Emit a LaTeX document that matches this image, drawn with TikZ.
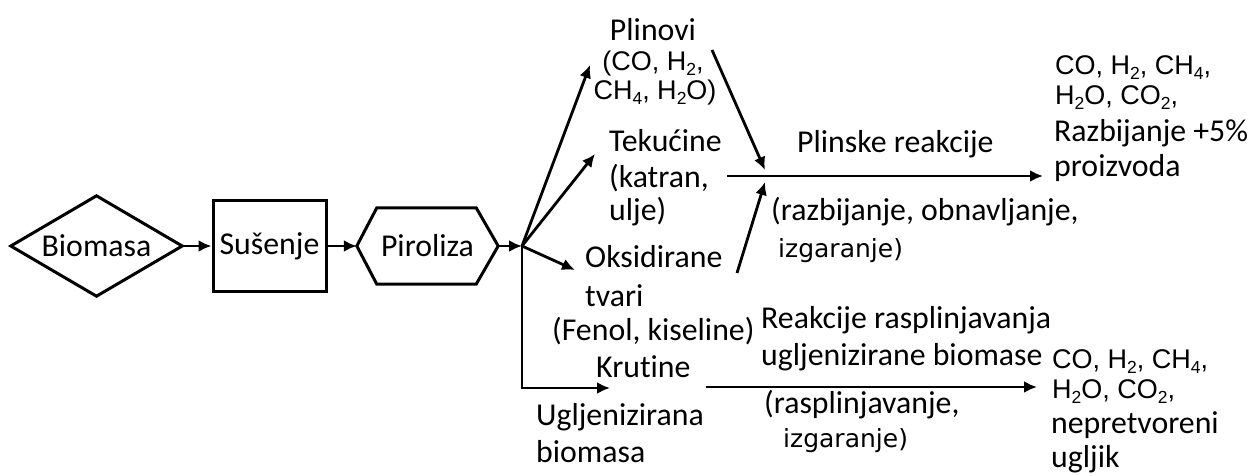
\documentclass[tikz,border=0pt]{standalone}
\usepackage{fontspec}
\setmainfont{Carlito}[Ligatures=NoCommon]
\newfontfamily\chemf{Liberation Sans}
\newfontfamily\dejf{DejaVu Sans}
\usetikzlibrary{arrows.meta,calc}
\newcommand\csub[1]{\raisebox{-5pt}{\fontsize{17.5}{17.5}\selectfont #1}}
\begin{document}
\begin{tikzpicture}[x=1pt,y=-1pt,
  font=\fontsize{31.8}{37}\selectfont,
  txt/.style={inner sep=0pt, anchor=base west},
  ctxt/.style={inner sep=0pt, anchor=base},
  chem/.style={inner sep=0pt, anchor=base west, font=\chemf\fontsize{27}{32}\selectfont},
  cchem/.style={inner sep=0pt, anchor=base, font=\chemf\fontsize{27}{32}\selectfont},
  lite/.style={inner sep=0pt, anchor=base west, font=\dejf\fontsize{25}{29}\selectfont},
  shp/.style={line width=3pt, line join=miter},
  arr/.style={line width=2.8pt, -{Latex[length=13pt,width=12pt]}},
  ln/.style={line width=2.8pt}]
\useasboundingbox (0,0) rectangle (1251,476);

% main chain
\node[minimum width=171pt, minimum height=100pt, inner sep=0pt] (bio) at (96.5,246) {Biomasa};
\draw[shp] (bio.west) -- (bio.north) -- (bio.east) -- (bio.south) -- cycle;
\node[draw, shp, minimum width=113pt, minimum height=90pt, inner sep=0pt] (sus) at (269.5,246) {Sušenje};
\node[minimum width=141pt, minimum height=76pt, inner sep=0pt] (pir) at (427.5,246) {Piroliza};
\draw[shp] (pir.west) -- ($(pir.north west)+(20,0)$) -- ($(pir.north east)+(-22,0)$) -- (pir.east)
  -- ($(pir.south east)+(-22,0)$) -- ($(pir.south west)+(20,0)$) -- cycle;

\coordinate (j) at (522,246);
\draw[arr] (bio.east) -- (sus.west);
\draw[arr] (sus.east) -- (pir.west);
\draw[arr] (pir.east) -- (j);

% pyrolysis products
\node[ctxt] (pl1) at (653,41) {Plinovi};
\node[cchem] (pl2) at (653,71) {(CO, H\csub{2},};
\node[cchem] (pl3) at (655,100) {CH\csub{4}, H\csub{2}O)};
\node[txt] (te1) at (609,152) {Tekućine};
\node[txt] (te2) at (609,188) {(katran,};
\node[txt] (te3) at (609,220) {ulje)};
\node[txt] (ok1) at (585,267) {Oksidirane};
\node[txt] (ok2) at (585,306) {tvari};
\node[txt] (ok3) at (552,340) {(Fenol, kiseline)};
\node[txt] (kr) at (596,377) {Krutine};
\node[txt] (ug1) at (536,425) {Ugljenizirana};
\node[txt] (ug2) at (536,462) {biomasa};

\coordinate (tPl) at (590,65);
\coordinate (tTe) at (595,154);
\coordinate (tOk) at (575,270);
\coordinate (tKr) at (610,388);
\draw[arr] (j) -- (tPl);
\draw[arr] (j) -- (tTe);
\draw[arr] (j) -- (tOk);
\draw[arr] (j) |- (tKr);

% gas reactions
\coordinate (gA) at (712,50);
\coordinate (gB) at (765,170);
\coordinate (oA) at (737,273);
\coordinate (oB) at (765,182);
\coordinate (hA) at (727,176);
\coordinate (hB) at (1043,176);
\draw[arr] (gA) -- (gB);
\draw[arr] (oA) -- (oB);
\draw[arr] (hA) -- (hB);
\node[txt] (pr) at (797,153) {Plinske reakcije};
\node[txt] (rz) at (771,220) {(razbijanje, obnavljanje,};
\node[lite] (iz1) at (778,257) {izgaranje)};

% char reactions
\coordinate (kA) at (706,387);
\coordinate (kB) at (1037,387);
\draw[arr] (kA) -- (kB);
\node[txt] (re1) at (761,328) {Reakcije rasplinjavanja};
\node[txt] (re2) at (761,365) {ugljenizirane biomase};
\node[txt] (ra) at (764,413) {(rasplinjavanje,};
\node[lite] (iz2) at (783,447) {izgaranje)};

% products top
\node[chem] (p1) at (1055,75) {CO, H\csub{2}, CH\csub{4},};
\node[chem] (p2) at (1055,105) {H\csub{2}O, CO\csub{2},};
\node[txt] (p3) at (1054,142) {Razbijanje +5\%};
\node[txt] (p4) at (1054,177) {proizvoda};

% products bottom
\node[chem] (q1) at (1052,368) {CO, H\csub{2}, CH\csub{4},};
\node[chem] (q2) at (1052,398) {H\csub{2}O, CO\csub{2},};
\node[txt] (q3) at (1051,433) {nepretvoreni};
\node[txt] (q4) at (1051,467) {ugljik};
\end{tikzpicture}
\end{document}
